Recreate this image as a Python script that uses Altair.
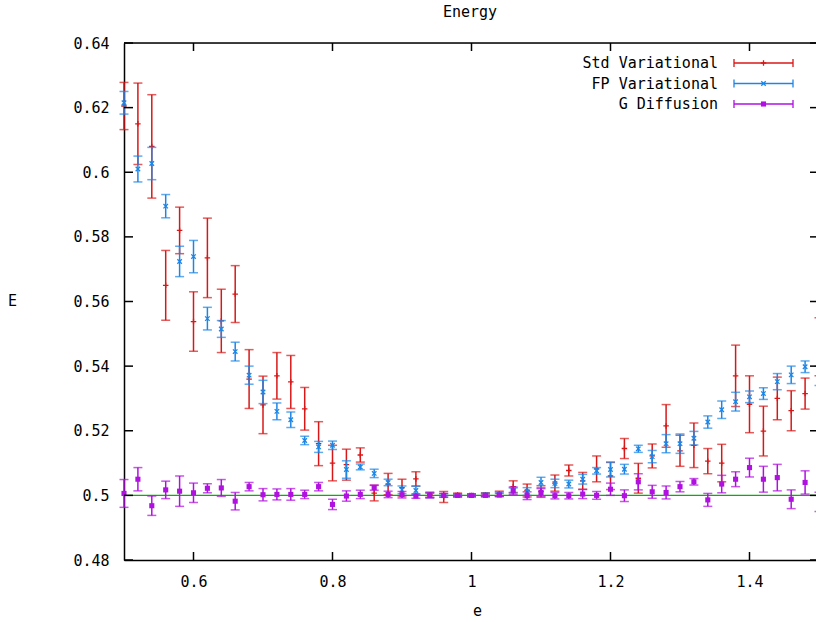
import altair as alt
import pandas as pd

# ---------------- data ----------------
e_values = [0.50, 0.52, 0.54, 0.56, 0.58, 0.60, 0.62, 0.64, 0.66, 0.68,
            0.70, 0.72, 0.74, 0.76, 0.78, 0.80, 0.82, 0.84, 0.86, 0.88,
            0.90, 0.92, 0.94, 0.96, 0.98, 1.00, 1.02, 1.04, 1.06, 1.08,
            1.10, 1.12, 1.14, 1.16, 1.18, 1.20, 1.22, 1.24, 1.26, 1.28,
            1.30, 1.32, 1.34, 1.36, 1.38, 1.40, 1.42, 1.44, 1.46, 1.48, 1.50]

std_E = [0.6205, 0.615, 0.608, 0.565, 0.582, 0.5538, 0.5735, 0.554, 0.5623, 0.536,
         0.528, 0.537, 0.5351, 0.5268, 0.516, 0.510, 0.5095, 0.5125, 0.5007, 0.5035,
         0.5024, 0.5051, 0.5002, 0.4995, 0.5001, 0.5, 0.5002, 0.5005, 0.5027, 0.5015,
         0.5012, 0.5038, 0.5077, 0.5045, 0.5082, 0.506, 0.5145, 0.5053, 0.5122, 0.5215,
         0.5138, 0.5155, 0.5106, 0.510, 0.537, 0.5282, 0.5199, 0.530, 0.5262, 0.5315, 0.546]
std_err = [0.0073, 0.0126, 0.016, 0.0108, 0.0072, 0.0092, 0.0123, 0.0098, 0.0088, 0.0091,
           0.0089, 0.0072, 0.0082, 0.0066, 0.0068, 0.0055, 0.0048, 0.0022, 0.0024, 0.0033,
           0.0026, 0.0022, 0.0008, 0.0017, 0.0006, 0.0005, 0.0006, 0.0008, 0.0018, 0.002,
           0.0018, 0.0025, 0.0017, 0.0026, 0.004, 0.0042, 0.0031, 0.0046, 0.0037, 0.0066,
           0.0048, 0.0069, 0.0039, 0.0058, 0.0095, 0.0088, 0.0077, 0.0066, 0.0062, 0.0048, 0.009]

fp_E = [0.6215, 0.601, 0.6027, 0.5895, 0.5724, 0.5739, 0.5547, 0.5515, 0.5445, 0.5372,
        0.532, 0.526, 0.5234, 0.517, 0.515, 0.5155, 0.508, 0.5088, 0.5068, 0.504,
        0.5017, 0.5015, 0.5, 0.5, 0.5, 0.5, 0.5002, 0.5004, 0.5015, 0.5012,
        0.504, 0.5037, 0.5035, 0.505, 0.5076, 0.508, 0.5081, 0.5144, 0.512, 0.516,
        0.516, 0.5177, 0.5227, 0.5265, 0.529, 0.5305, 0.5315, 0.5352, 0.5373, 0.5398, 0.537]
fp_err = [0.0035, 0.004, 0.005, 0.0036, 0.0047, 0.005, 0.0035, 0.0026, 0.0029, 0.0028,
          0.0036, 0.0026, 0.0024, 0.0013, 0.0017, 0.0013, 0.0027, 0.0009, 0.0013, 0.001,
          0.0012, 0.0013, 0.0007, 0.0005, 0.0004, 0.0004, 0.0005, 0.0006, 0.0008, 0.0012,
          0.0016, 0.0013, 0.0012, 0.0015, 0.001, 0.0023, 0.0015, 0.0011, 0.0019, 0.0028,
          0.003, 0.0021, 0.0019, 0.0027, 0.0029, 0.0018, 0.0018, 0.0025, 0.0027, 0.0018, 0.003]

gd_E = [0.5006, 0.505, 0.4968, 0.5017, 0.5013, 0.5008, 0.5022, 0.5023, 0.4982, 0.5027,
        0.5002, 0.5003, 0.5003, 0.5003, 0.5027, 0.4972, 0.4998, 0.5003, 0.5024, 0.5003,
        0.5002, 0.4998, 0.5, 0.5, 0.5, 0.5, 0.5, 0.5001, 0.5014, 0.4999,
        0.5009, 0.4999, 0.4999, 0.5004, 0.5, 0.5019, 0.4999, 0.5042, 0.5011, 0.5009,
        0.5027, 0.5042, 0.4986, 0.5035, 0.505, 0.5086, 0.505, 0.5055, 0.4988, 0.504, 0.498]
gd_err = [0.0043, 0.0036, 0.003, 0.0027, 0.0047, 0.003, 0.0014, 0.0026, 0.0027, 0.0013,
          0.0019, 0.0017, 0.0018, 0.0013, 0.0013, 0.0016, 0.0016, 0.0013, 0.0008, 0.001,
          0.001, 0.0007, 0.0008, 0.0006, 0.0004, 0.0003, 0.0004, 0.0005, 0.0012, 0.0012,
          0.0012, 0.001, 0.001, 0.0014, 0.0012, 0.0019, 0.0018, 0.0025, 0.002, 0.002,
          0.0016, 0.001, 0.002, 0.0027, 0.0023, 0.0029, 0.004, 0.0041, 0.0029, 0.0036, 0.003]

series_names = ["Std Variational", "FP Variational", "G Diffusion"]
series_colors = ["#d81818", "#1c86e6", "#b010e0"]
reference_level = [0.5]

x_ticks = [0.6, 0.8, 1.0, 1.2, 1.4]
y_ticks = [0.48, 0.50, 0.52, 0.54, 0.56, 0.58, 0.60, 0.62, 0.64]

# ---------------- layout ----------------
W, H = 692, 517
FONT = "DejaVu Sans Mono"
FS = 15

xs = alt.Scale(domain=[0.5, 0.5 + W / 695.0], nice=False, zero=False)
ys = alt.Scale(domain=[0.48, 0.64], nice=False, zero=False)

xaxis = alt.Axis(values=x_ticks, format="~g", ticks=False, grid=False, domain=True,
                 domainColor="black", domainWidth=1.5, labelFont=FONT, labelFontSize=FS,
                 labelColor="black", labelPadding=14, title="e", titleFont=FONT,
                 titleFontSize=FS, titleFontWeight="normal", titleX=353, titleY=50,
                 titleAlign="center", titleBaseline="middle", labelFlush=False)
yaxis = alt.Axis(values=y_ticks, format="~g", ticks=False, grid=False, domain=True,
                 domainColor="black", domainWidth=1.5, labelFont=FONT, labelFontSize=FS,
                 labelColor="black", labelPadding=15, title="E", titleFont=FONT,
                 titleFontSize=FS, titleFontWeight="normal", titleAngle=0, titleX=-112,
                 titleY=257, titleAlign="center", titleBaseline="middle", labelFlush=False)


def X(field):
    return alt.X(field, type="quantitative", scale=xs, axis=xaxis)


def Y(field):
    return alt.Y(field, type="quantitative", scale=ys, axis=yaxis)


def make_df(vals, errs):
    return pd.DataFrame({
        "e": e_values,
        "E": vals,
        "lo": [v - s for v, s in zip(vals, errs)],
        "hi": [v + s for v, s in zip(vals, errs)],
    })


plus_shape = "M-1,0L1,0M0,-1L0,1"
x_shape = "M-1,-1L1,1M-1,1L1,-1"

series_data = [make_df(std_E, std_err), make_df(fp_E, fp_err), make_df(gd_E, gd_err)]
marker_specs = [
    dict(shape=plus_shape, filled=False, size=30, strokeWidth=1.3),
    dict(shape=x_shape, filled=False, size=20, strokeWidth=1.3),
    dict(shape="square", filled=True, size=26, strokeWidth=0),
]

layers = []

# green constant line
layers.append(
    alt.Chart(pd.DataFrame({"v": reference_level})).mark_rule(color="#00b400", strokeWidth=1.3)
    .encode(y=Y("v"))
)

for i, df in enumerate(series_data):
    col = series_colors[i]
    base = alt.Chart(df)
    layers.append(base.mark_rule(color=col, strokeWidth=1.5).encode(x=X("e"), y=Y("lo"), y2="hi:Q"))
    layers.append(base.mark_tick(color=col, orient="horizontal", size=9, thickness=1.5)
                  .encode(x=X("e"), y=Y("lo")))
    layers.append(base.mark_tick(color=col, orient="horizontal", size=9, thickness=1.5)
                  .encode(x=X("e"), y=Y("hi")))
    spec = marker_specs[i]
    layers.append(base.mark_point(color=col, opacity=1, **spec).encode(x=X("e"), y=Y("E")))

# frame: top border and inward ticks
one = pd.DataFrame({"a": [0]})
layers.append(alt.Chart(one).mark_rule(color="black", strokeWidth=1.5)
              .encode(x=alt.value(0), x2=alt.value(W + 3), y=alt.value(0)))
xt = pd.DataFrame({"v": x_ticks})
yt = pd.DataFrame({"v": y_ticks})
layers.append(alt.Chart(xt).mark_rule(color="black", strokeWidth=1.5)
              .encode(x=X("v"), y=alt.value(H), y2=alt.value(H - 8)))
layers.append(alt.Chart(xt).mark_rule(color="black", strokeWidth=1.5)
              .encode(x=X("v"), y=alt.value(0), y2=alt.value(8)))
layers.append(alt.Chart(yt).mark_rule(color="black", strokeWidth=1.5)
              .encode(y=Y("v"), x=alt.value(0), x2=alt.value(9)))
layers.append(alt.Chart(yt).mark_rule(color="black", strokeWidth=1.5)
              .encode(y=Y("v"), x=alt.value(W - 6), x2=alt.value(W + 3)))

# legend (top right, inside the plot)
for i, name in enumerate(series_names):
    col = series_colors[i]
    yy = 20 + 20.5 * i
    ldf = pd.DataFrame({"label": [name]})
    lb = alt.Chart(ldf)
    layers.append(lb.mark_text(align="right", baseline="middle", font=FONT, fontSize=FS, color="black")
                  .encode(text="label:N", x=alt.value(594), y=alt.value(yy)))
    layers.append(lb.mark_rule(color=col, strokeWidth=1.3)
                  .encode(x=alt.value(610), x2=alt.value(669), y=alt.value(yy)))
    layers.append(lb.mark_rule(color=col, strokeWidth=1.3)
                  .encode(x=alt.value(610), y=alt.value(yy - 4), y2=alt.value(yy + 4)))
    layers.append(lb.mark_rule(color=col, strokeWidth=1.3)
                  .encode(x=alt.value(669), y=alt.value(yy - 4), y2=alt.value(yy + 4)))
    layers.append(lb.mark_point(color=col, opacity=1, **marker_specs[i])
                  .encode(x=alt.value(639.5), y=alt.value(yy)))

chart = alt.layer(*layers).properties(
    width=W,
    height=H,
    title=alt.TitleParams("Energy", font=FONT, fontSize=FS, fontWeight="normal",
                          anchor="middle", color="black", offset=16),
    autosize=alt.AutoSizeParams(type="none"),
    padding={"left": 124, "top": 43, "right": 0, "bottom": 62},
).configure_view(stroke=None).configure(background="white")

chart.save("out.html", embed_options={"renderer": "svg", "actions": False})
